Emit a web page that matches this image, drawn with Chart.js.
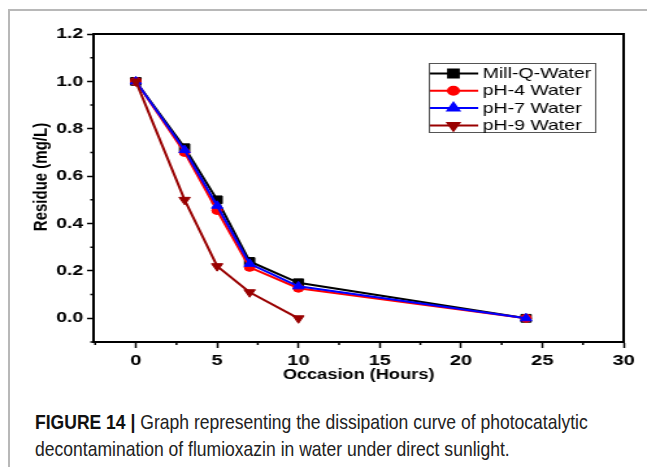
<!DOCTYPE html>
<html>
<head>
<meta charset="utf-8">
<script src="https://cdn.jsdelivr.net/npm/chart.js@4.4.0/dist/chart.umd.min.js"></script>
<style>
body { margin: 0; background: #fff; width: 647px; height: 467px; overflow: hidden; position: relative; }
#frame { position: absolute; left: 8px; top: 9px; width: 660px; height: 480px; border-top: 2px solid #b8b8b8; border-left: 2px solid #b8b8b8; }
#chart { position: absolute; left: 0; top: 0; }
#caption { position: absolute; left: 35px; top: 408px; font-family: "Liberation Sans", Arial, sans-serif; font-size: 21px; line-height: 27px; color: #222; white-space: nowrap; transform: scaleX(0.835); transform-origin: 0 0; }
#caption b { color: #111; }
</style>
</head>
<body>
<div id="frame"></div>
<canvas id="chart" width="498" height="400" style="width: 647px; height: 400px;"></canvas>
<div id="caption"><b>FIGURE 14 |</b> Graph representing the dissipation curve of photocatalytic<br>decontamination of flumioxazin in water under direct sunlight.</div>
<script>
// valores
const hours = [0, 3, 5, 7, 10, 24];
const hoursPH9 = [0, 3, 5, 7, 10];
const millQ = [1.0, 0.72, 0.50, 0.24, 0.15, 0.0];
const ph4 = [1.0, 0.70, 0.455, 0.215, 0.127, 0.0];
const ph7 = [1.0, 0.71, 0.475, 0.23, 0.135, 0.0];
const ph9 = [1.0, 0.50, 0.22, 0.11, 0.0];

const xTicks = [0, 5, 10, 15, 20, 25, 30];
const yTicks = [0.0, 0.2, 0.4, 0.6, 0.8, 1.0, 1.2];
const xMinor = [-2.5, 2.5, 7.5, 12.5, 17.5, 22.5, 27.5];
const yMinor = [-0.1, 0.1, 0.3, 0.5, 0.7, 0.9, 1.1];
const yTitle = 'Residue (mg/L)';

function toPoints(xs, ys) {
    return xs.map((x, i) => ({ x: x, y: ys[i] }));
}

// marco, ticks menores, titulo del eje y y leyenda
const extras = {
    id: 'extras',
    afterDraw(chart) {
        const ctx = chart.ctx;
        const a = chart.chartArea;
        const sx = chart.scales.x, sy = chart.scales.y;
        ctx.save();
        ctx.strokeStyle = '#000';
        ctx.lineWidth = 2;
        ctx.beginPath();
        ctx.moveTo(a.left, a.top);
        ctx.lineTo(a.right, a.top);
        ctx.lineTo(a.right, a.bottom);
        ctx.stroke();

        ctx.lineWidth = 1.5;
        ctx.beginPath();
        xMinor.forEach(v => {
            const px = sx.getPixelForValue(v);
            ctx.moveTo(px, a.bottom);
            ctx.lineTo(px, a.bottom + 3);
        });
        yMinor.forEach(v => {
            const py = sy.getPixelForValue(v);
            ctx.moveTo(a.left, py);
            ctx.lineTo(a.left - 2.5, py);
        });
        ctx.stroke();

        // titulo eje y
        ctx.save();
        ctx.translate(32, 177);
        ctx.rotate(-Math.PI / 2);
        ctx.font = 'bold 15px Arial, "Liberation Sans", sans-serif';
        ctx.fillStyle = '#000';
        ctx.textAlign = 'center';
        ctx.textBaseline = 'middle';
        ctx.fillText(yTitle, 0, 0);
        ctx.restore();

        // leyenda
        const bx = 330, by = 63, bw = 128, bh = 69;
        ctx.lineWidth = 1;
        ctx.strokeStyle = '#555';
        ctx.fillStyle = '#fff';
        ctx.fillRect(bx, by, bw, bh);
        ctx.strokeRect(bx + 0.5, by + 0.5, bw, bh);
        ctx.font = '15px Arial, "Liberation Sans", sans-serif';
        ctx.textBaseline = 'middle';
        chart.data.datasets.forEach((ds, i) => {
            const ry = by + 10.5 + i * 17.3;
            ctx.strokeStyle = ds.borderColor;
            ctx.lineWidth = 2;
            ctx.beginPath();
            ctx.moveTo(bx + 1, ry);
            ctx.lineTo(bx + 38, ry);
            ctx.stroke();
            ctx.fillStyle = ds.pointBackgroundColor;
            ctx.strokeStyle = ds.borderColor;
            Chart.helpers.drawPoint(ctx, {
                pointStyle: ds.pointStyle,
                radius: ds.pointRadius,
                rotation: ds.pointRotation || 0,
                borderWidth: 1
            }, bx + 19, ry);
            ctx.fillStyle = '#000';
            ctx.fillText(ds.label, bx + 41.5, ry + 0.5);
        });
        ctx.restore();
    }
};

const ctx = document.getElementById('chart').getContext('2d');
new Chart(ctx, {
    type: 'line',
    data: {
        datasets: [{
            label: 'Mill-Q-Water',
            data: toPoints(hours, millQ),
            borderColor: '#000000',
            pointBackgroundColor: '#000000',
            pointStyle: 'rect',
            pointRadius: 5.5,
            order: 4
        }, {
            label: 'pH-4 Water',
            data: toPoints(hours, ph4),
            borderColor: '#ff0000',
            pointBackgroundColor: '#ff0000',
            pointStyle: 'circle',
            pointRadius: 4,
            order: 3
        }, {
            label: 'pH-7 Water',
            data: toPoints(hours, ph7),
            borderColor: '#0000ff',
            pointBackgroundColor: '#0000ff',
            pointStyle: 'triangle',
            pointRadius: 5,
            order: 2
        }, {
            label: 'pH-9 Water',
            data: toPoints(hoursPH9, ph9),
            borderColor: '#990000',
            pointBackgroundColor: '#990000',
            pointStyle: 'triangle',
            pointRotation: 180,
            pointRadius: 5,
            order: 1
        }]
    },
    options: {
        responsive: false,
        devicePixelRatio: 1,
        animation: false,
        elements: {
            line: { borderWidth: 2, tension: 0, fill: false },
            point: { borderWidth: 1, hoverRadius: 5 }
        },
        layout: { padding: { left: 0, right: 18, top: 34, bottom: 0 } },
        plugins: { legend: { display: false }, tooltip: { enabled: false } },
        scales: {
            x: {
                type: 'linear',
                min: -2.6,
                max: 30,
                afterBuildTicks: s => { s.ticks = xTicks.map(v => ({ value: v })); },
                afterFit: s => { s.height = 58; },
                grid: { drawOnChartArea: false, drawTicks: true, tickLength: 6, tickColor: '#000', tickWidth: 1.5 },
                border: { display: true, color: '#000', width: 2 },
                ticks: { color: '#000', padding: 3, maxRotation: 0, font: { family: 'Arial', size: 15.5, weight: 'bold' }, callback: v => v },
                title: { display: true, text: 'Occasion (Hours)', color: '#000', font: { family: 'Arial', size: 14, weight: 'bold' }, padding: { top: 0, bottom: 16 } }
            },
            y: {
                type: 'linear',
                min: -0.1,
                max: 1.2,
                afterBuildTicks: s => { s.ticks = yTicks.map(v => ({ value: v })); },
                afterFit: s => { s.width = 72; },
                grid: { drawOnChartArea: false, drawTicks: true, tickLength: 5, tickColor: '#000', tickWidth: 1.5 },
                border: { display: true, color: '#000', width: 2 },
                ticks: { color: '#000', padding: 3, font: { family: 'Arial', size: 15, weight: 'bold' }, callback: v => v.toFixed(1) },
                title: { display: false }
            }
        }
    },
    plugins: [extras]
});
</script>
</body>
</html>
